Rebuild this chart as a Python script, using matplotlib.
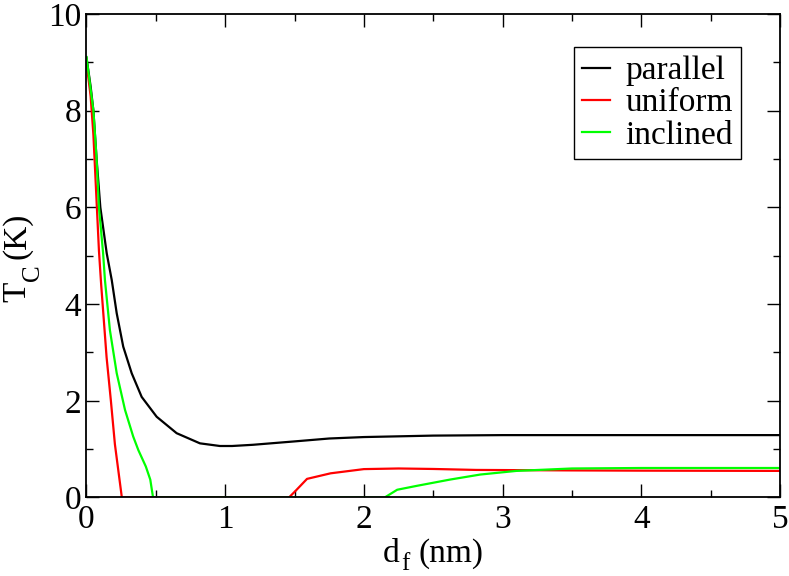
import matplotlib
matplotlib.use("Agg")
import matplotlib.pyplot as plt
from matplotlib.ticker import MultipleLocator

plt.rcParams['font.family'] = ['Liberation Serif', 'DejaVu Serif']

W, H = 789, 576

# parallel
x_par = [0, 0.03, 0.05, 0.073, 0.1, 0.146, 0.182, 0.218, 0.265, 0.326, 0.398,
         0.506, 0.65, 0.818, 0.962, 1.05, 1.2, 1.5, 1.75, 2.0, 2.5, 3.0, 4.0, 5.0]
y_par = [9.1, 8.5, 8.0, 7.0, 6.0, 5.05, 4.5, 3.81, 3.12, 2.57, 2.08,
         1.67, 1.33, 1.12, 1.065, 1.065, 1.09, 1.16, 1.22, 1.25, 1.28, 1.29, 1.29, 1.29]

# uniform
x_uni = [0, 0.03, 0.05, 0.07, 0.09, 0.106, 0.145, 0.176, 0.205, 0.255,
         1.46, 1.51, 1.59, 1.76, 2.0, 2.25, 2.5, 2.81, 3.5, 4.0, 5.0]
y_uni = [9.0, 8.3, 7.5, 6.3, 5.1, 4.4, 2.9, 2.0, 1.1, 0.0,
         0.0, 0.145, 0.385, 0.50, 0.587, 0.60, 0.59, 0.57, 0.56, 0.555, 0.55]

# inclined
x_inc = [0, 0.05, 0.073, 0.09, 0.12, 0.133, 0.169, 0.218, 0.278, 0.337, 0.374,
         0.428, 0.46, 0.48, 2.15, 2.24, 2.38, 2.62, 2.84, 3.1, 3.5, 4.0, 5.0]
y_inc = [9.11, 8.0, 7.0, 6.0, 5.05, 4.5, 3.46, 2.57, 1.81, 1.26, 0.98,
         0.64, 0.37, 0.0, 0.0, 0.16, 0.24, 0.37, 0.475, 0.55, 0.6, 0.61, 0.61]

fig = plt.figure(figsize=(7.89, 5.76), dpi=100)
ax = fig.add_axes([0.1096, 0.1363, 0.8790, 0.8394])

ax.plot(x_par, y_par, color='black', lw=1.6, label='parallel')
ax.plot(x_uni, y_uni, color='#ff0000', lw=1.6, label='uniform')
ax.plot(x_inc, y_inc, color='#00ff00', lw=1.6, label='inclined')

ax.set_xlim(0, 5)
ax.set_ylim(0, 10)
ax.xaxis.set_major_locator(MultipleLocator(1))
ax.xaxis.set_minor_locator(MultipleLocator(0.5))
ax.yaxis.set_major_locator(MultipleLocator(2))
ax.yaxis.set_minor_locator(MultipleLocator(1))
ax.tick_params(which='both', direction='in', top=True, right=True,
               labelsize=24, width=1.0)
ax.tick_params(which='major', length=9.5)
ax.tick_params(which='minor', length=5)
ax.tick_params(axis='x', which='major', pad=5)
ax.tick_params(axis='y', which='major', pad=4)
for s in ax.spines.values():
    s.set_linewidth(1.3)

# axis labels built from pieces so the subscripts sit low like the original
def put(px, py, s, size, rot=0):
    fig.text(px / W, 1 - py / H, s, fontsize=size, rotation=rot,
             rotation_mode='anchor', ha='left', va='baseline')

put(383, 561.7, 'd', 24)
put(401, 570, 'f', 18)
put(418, 561.7, '(nm)', 24)

put(25, 302, 'T', 24, 90)
put(39, 281, 'C', 18, 90)
put(25, 259, '(K)', 24, 90)

leg = ax.legend(loc='upper right', bbox_to_anchor=(0.944, 0.931), fontsize=24,
                handlelength=0.85, handletextpad=0.45, borderpad=0.25,
                labelspacing=0.05, borderaxespad=0, fancybox=False, framealpha=1)
leg.get_frame().set_edgecolor('black')
leg.get_frame().set_linewidth(1.0)

fig.savefig('out.png', dpi=100)
